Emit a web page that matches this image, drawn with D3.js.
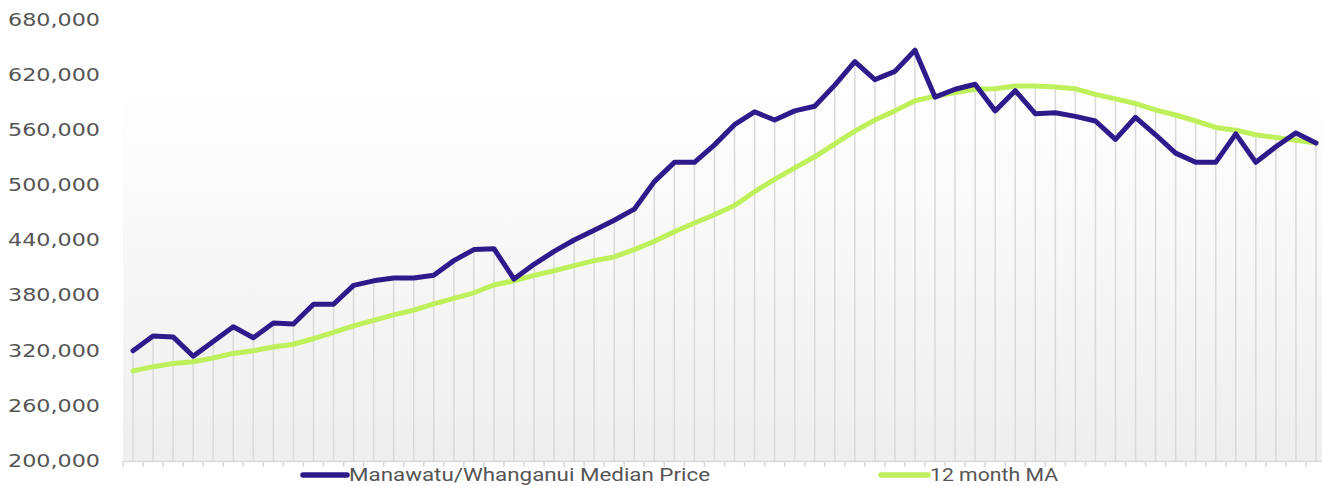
<!DOCTYPE html>
<html><head><meta charset="utf-8">
<script src="https://cdn.jsdelivr.net/npm/d3@7"></script>
<style>body{margin:0;background:#fff;} svg{display:block;}</style>
</head><body>
<svg id="c" width="1322" height="486"></svg>
<script>
const categories = ["m01","m02","m03","m04","m05","m06","m07","m08","m09","m10","m11","m12","m13","m14","m15","m16","m17","m18","m19","m20","m21","m22","m23","m24","m25","m26","m27","m28","m29","m30","m31","m32","m33","m34","m35","m36","m37","m38","m39","m40","m41","m42","m43","m44","m45","m46","m47","m48","m49","m50","m51","m52","m53","m54","m55","m56","m57","m58","m59","m60"];
const medianPrice = [319000,335000,334000,313000,329000,345000,333000,349000,348000,369500,369500,390000,395000,398000,398000,401000,417000,429000,430000,397000,413000,427000,439500,450000,461000,473000,503000,524000,524000,543000,565000,579000,570000,580000,585000,608000,633500,614000,623000,646000,595000,603500,609000,580000,602000,577000,578000,574000,569000,549000,573000,554000,534000,524000,524000,555000,524000,541000,556000,545000];
const movingAvg = [297000,301600,305000,307000,311000,316000,319000,323000,326000,332000,339000,346000,352000,358000,363000,370000,376000,382000,390500,395000,401000,406000,411500,417000,421000,429000,438000,448500,458000,467000,477000,492000,505500,518000,530000,544000,558000,570000,580000,591000,596000,600000,603500,604000,607000,607000,606000,604000,598000,593000,588000,581000,575500,569000,562000,559000,554000,551000,548000,545000];
const yTicks = [200000,260000,320000,380000,440000,500000,560000,620000,680000];
const seriesNames = ["Manawatu/Whanganui Median Price","12 month MA"];
const colors = ["#2f1a8c","#bdf05a"];

const svg = d3.select("#c");
const padLeft = 123, padBottom = 461, padTop = 19;
const x = d3.scaleBand().domain(categories).range([padLeft, padLeft + categories.length * 20.05]);
const y = d3.scaleLinear().domain([200000, 680000]).range([460, padTop]);
const cx = d => x(d) + x.bandwidth() / 2;

const defs = svg.append("defs");
const g = defs.append("linearGradient").attr("id","bg").attr("x1",0).attr("y1",0).attr("x2",0).attr("y2",1);
g.append("stop").attr("offset","0%").attr("stop-color","#ffffff");
g.append("stop").attr("offset","15%").attr("stop-color","#ffffff");
g.append("stop").attr("offset","100%").attr("stop-color","#eeeeee");
svg.append("rect").attr("x",padLeft).attr("y",padTop).attr("width",1322-padLeft).attr("height",padBottom-padTop).attr("fill","url(#bg)");

// drop lines from the higher of the two series at each category
svg.append("g").selectAll("line").data(categories).join("line")
  .attr("x1",d=>cx(d)).attr("x2",d=>cx(d))
  .attr("y1",(d,i)=>y(Math.max(medianPrice[i], movingAvg[i]))).attr("y2",padBottom)
  .attr("stroke","#d9d9d9").attr("stroke-width",1.5);

// x axis with ticks at band boundaries
const xAxis = d3.axisBottom(x).tickSize(0).tickFormat("");
const xg = svg.append("g").attr("transform",`translate(0,${padBottom})`).call(xAxis);
xg.select(".domain").attr("stroke","#d9d9d9").attr("stroke-width",1.5);
xg.append("g").selectAll("line").data(categories).join("line")
  .attr("x1",d=>x(d)).attr("x2",d=>x(d)).attr("y1",0).attr("y2",6)
  .attr("stroke","#d9d9d9").attr("stroke-width",1.5);

// y axis
const yAxis = d3.axisLeft(y).tickValues(yTicks).tickFormat(d3.format(",")).tickSize(0).tickPadding(23);
const yg = svg.append("g").attr("transform",`translate(${padLeft},0)`).call(yAxis);
yg.select(".domain").remove();
yg.selectAll("text").attr("font-family","'DejaVu Sans', sans-serif").attr("font-size",17.5)
  .attr("fill","#555").attr("textLength",92).attr("lengthAdjust","spacingAndGlyphs").attr("dy","0.36em");

const line = d3.line().x((d,i)=>cx(categories[i])).y(d=>y(d));
svg.append("path").datum(movingAvg).attr("d",line).attr("fill","none").attr("stroke",colors[1])
  .attr("stroke-width",5).attr("stroke-linejoin","round").attr("stroke-linecap","round");
svg.append("path").datum(medianPrice).attr("d",line).attr("fill","none").attr("stroke",colors[0])
  .attr("stroke-width",5).attr("stroke-linejoin","round").attr("stroke-linecap","round");

// legend
const legendItems = [{x:303, w:44, tx:349, tl:361},{x:881, w:47, tx:930, tl:128}];
const lg = svg.append("g");
legendItems.forEach((it,i)=>{
  lg.append("line").attr("x1",it.x).attr("x2",it.x+it.w).attr("y1",475).attr("y2",475)
    .attr("stroke",colors[i]).attr("stroke-width",5.5).attr("stroke-linecap","round");
  lg.append("text").attr("x",it.tx).attr("y",475).attr("dy","0.36em").text(seriesNames[i])
    .attr("font-family","Roboto, sans-serif").attr("font-size",18).attr("fill","#555")
    .attr("textLength",it.tl).attr("lengthAdjust","spacingAndGlyphs");
});
</script>
</body></html>
